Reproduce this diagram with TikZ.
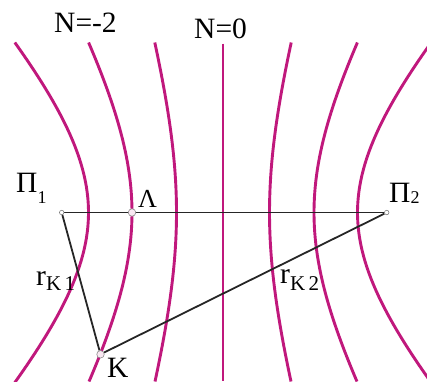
\documentclass[tikz,border=0pt]{standalone}
\usepackage{fontspec}
\setmainfont{Liberation Serif}
\newfontfamily\labelfont{Liberation Serif}
\usetikzlibrary{positioning, backgrounds}

\definecolor{isocol}{RGB}{192,24,124}
\newcommand{\lowsub}[3][18]{\raisebox{-#2}{\fontsize{#1}{#1}\selectfont #3}}

\begin{document}
\begin{tikzpicture}[x=1pt, y=-1pt,
    isoline/.style={draw=isocol, line width=2.9pt},
    segment/.style={draw=black!85, line width=1.8pt},
    pole/.style={circle, draw=black!50, fill=white, inner sep=0pt,
                 minimum size=4.5pt, line width=0.6pt},
    spot/.style={circle, draw=black!45, fill=isocol!10, inner sep=0pt,
                 minimum size=7.5pt, line width=0.6pt},
    lbl/.style={font=\labelfont\fontsize{29.5}{31}\selectfont, inner sep=0pt,
                anchor=base west}
]
  \useasboundingbox (0,0) rectangle (427,381);
  \clip (0,0) rectangle (427,381);

  % Points
  \node[pole] (p1) at (61.7,212.5) {};
  \node[pole] (p2) at (386.7,212.5) {};
  \node[spot] (lam) at (132,212.5) {};
  \node[spot] (k) at (100.5,354.3) {};

  % Labels
  \node[lbl] (nm2) at (54,32) {N=-2};
  \node[lbl] (n0) at (194,38) {N=0};
  \node[lbl] (p1lbl) at (16,192) {Π\lowsub{11pt}{1}};
  \node[lbl] (p2lbl) at (389,202) {Π\lowsub{1pt}{2}};
  \node[lbl, font=\labelfont\fontsize{26}{28}\selectfont] (lamlbl) at (138,207) {Λ};
  \node[lbl] (klbl) at (107,377) {K};
  \node[lbl] (rk1) at (36,285) {r\lowsub[21]{5pt}{K\,1}};
  \node[lbl] (rk2) at (280,283) {r\lowsub[21]{7pt}{K\,2}};

  \begin{scope}[on background layer]
    % Isolines
    \draw[isoline] plot[domain=-170:170, samples=60, variable=\t]
      ({223-134.5*sqrt(1+(\t/143.9)^2)}, {212.5+\t});
    \draw[isoline] plot[domain=-170:169, samples=60, variable=\t]
      ({223-91*sqrt(1+(\t/156.4)^2)}, {212.5+\t});
    \draw[isoline] plot[domain=-170:169, samples=60, variable=\t]
      ({223-46.5*sqrt(1+(\t/158.4)^2)}, {212.5+\t});
    \draw[isoline] (223,43.5) -- (223,381);
    \draw[isoline] plot[domain=-170:169, samples=60, variable=\t]
      ({223+46.5*sqrt(1+(\t/158.4)^2)}, {212.5+\t});
    \draw[isoline] plot[domain=-170:169, samples=60, variable=\t]
      ({223+91*sqrt(1+(\t/156.4)^2)}, {212.5+\t});
    \draw[isoline] plot[domain=-170:170, samples=60, variable=\t]
      ({223+134.5*sqrt(1+(\t/143.9)^2)}, {212.5+\t});

    % Lines
    \draw[segment] (p1) -- (p2);
    \draw[segment] (p1) -- (k);
    \draw[segment] (k) -- (p2);
  \end{scope}
\end{tikzpicture}
\end{document}
